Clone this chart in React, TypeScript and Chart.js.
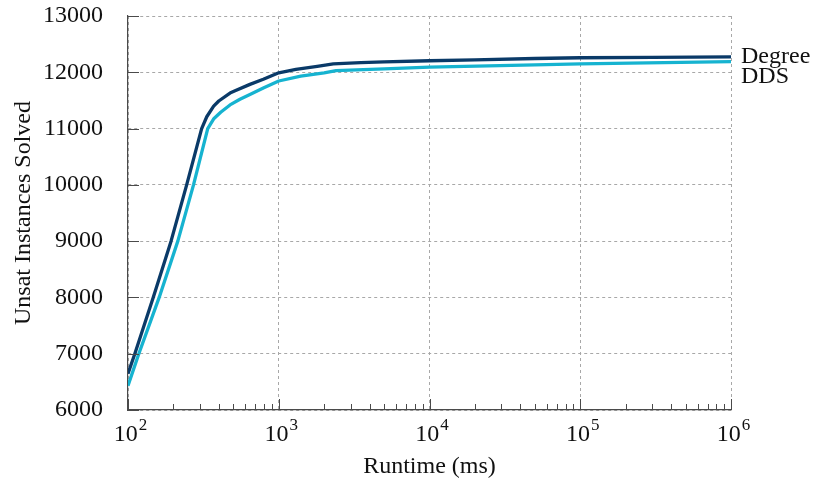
import React, { useEffect, useRef } from "react";
import { Chart, registerables } from "chart.js";

Chart.register(...registerables);

// ---- Data ----
const degreeX = [100, 111, 147, 193, 245, 308, 333, 370, 400, 475, 513, 644, 790, 1000, 1300, 1800, 2300, 3500, 5000, 10000, 20000, 50000, 100000, 300000, 1000000];
const degreeY = [6645, 7000, 8000, 9000, 10000, 11000, 11210, 11400, 11490, 11630, 11670, 11785, 11875, 11990, 12050, 12105, 12150, 12170, 12185, 12205, 12220, 12245, 12258, 12266, 12275];

const ddsX = [100, 118, 161, 214, 272, 338, 372, 412, 475, 553, 644, 790, 1000, 1400, 2000, 2400, 5000, 10000, 50000, 100000, 1000000];
const ddsY = [6432, 7000, 8000, 9000, 10000, 11000, 11180, 11290, 11420, 11520, 11605, 11720, 11845, 11930, 11990, 12030, 12060, 12092, 12130, 12150, 12190];

const seriesNames = ["Degree", "DDS"];
const seriesColors = ["#0a3a68", "#16b3d0"];

const xTickValues = [100, 1000, 10000, 100000, 1000000];
const xTickBase = "10";
const xTickExponents = ["2", "3", "4", "5", "6"];
const yMin = 6000;
const yMax = 13000;
const yStep = 1000;

const xTitle = "Runtime (ms)";
const yTitle = "Unsat Instances Solved";

const FONT = '"Liberation Serif", "Times New Roman", serif';

export default function App() {
  const ref = useRef<HTMLCanvasElement>(null);

  useEffect(() => {
    const canvas = ref.current;
    if (!canvas) return;

    const decorPlugin = {
      id: "decor",
      afterDraw(chart: any) {
        const ctx = chart.ctx;
        const xs = chart.scales.x;
        const { left, bottom } = chart.chartArea;
        ctx.save();
        ctx.strokeStyle = "#4a4a4a";
        ctx.lineWidth = 1;
        const seg = (x1: number, y1: number, x2: number, y2: number) => {
          ctx.beginPath();
          ctx.moveTo(x1, y1);
          ctx.lineTo(x2, y2);
          ctx.stroke();
        };
        // minor x ticks
        for (let d = 0; d < xTickValues.length - 1; d++) {
          for (let m = 2; m <= 9; m++) {
            const px = Math.round(xs.getPixelForValue(m * xTickValues[d])) + 0.5;
            seg(px, bottom, px, bottom - 6);
          }
        }
        // major x ticks
        xTickValues.forEach((v) => {
          const px = Math.round(xs.getPixelForValue(v)) + 0.5;
          seg(px, bottom, px, bottom - 11);
        });
        // y ticks
        const ys = chart.scales.y;
        for (let v = yMin; v <= yMax; v += yStep) {
          const py = Math.round(ys.getPixelForValue(v)) + 0.5;
          seg(left, py, left + 11, py);
        }
        // x tick labels 10^k
        ctx.fillStyle = "#111";
        ctx.textBaseline = "alphabetic";
        ctx.textAlign = "left";
        xTickValues.forEach((v, i) => {
          const px = xs.getPixelForValue(v);
          ctx.font = `24px ${FONT}`;
          const wb = ctx.measureText(xTickBase).width;
          ctx.font = `17px ${FONT}`;
          const we = ctx.measureText(xTickExponents[i]).width;
          const start = px - (wb + we) / 2 + 2;
          ctx.font = `24px ${FONT}`;
          ctx.fillText(xTickBase, start, 441);
          ctx.font = `17px ${FONT}`;
          ctx.fillText(xTickExponents[i], start + wb + 1, 430);
        });
        // series end labels
        ctx.font = `24px ${FONT}`;
        const offsets = [6, 21];
        chart.data.datasets.forEach((ds: any, i: number) => {
          const meta = chart.getDatasetMeta(i);
          const last = meta.data[meta.data.length - 1];
          if (!last) return;
          ctx.fillText(seriesNames[i], last.x + 10, last.y + offsets[i]);
        });
        ctx.restore();
      },
    };

    const chart = new Chart(canvas, {
      type: "line",
      data: {
        datasets: [
          {
            label: seriesNames[0],
            data: degreeX.map((x, i) => ({ x, y: degreeY[i] })),
            borderColor: seriesColors[0],
            backgroundColor: seriesColors[0],
            borderWidth: 3.3,
            pointRadius: 0,
            tension: 0,
            fill: false,
            borderJoinStyle: "round",
          },
          {
            label: seriesNames[1],
            data: ddsX.map((x, i) => ({ x, y: ddsY[i] })),
            borderColor: seriesColors[1],
            backgroundColor: seriesColors[1],
            borderWidth: 3.3,
            pointRadius: 0,
            tension: 0,
            fill: false,
            borderJoinStyle: "round",
          },
        ],
      },
      options: {
        animation: false,
        responsive: false,
        maintainAspectRatio: false,
        layout: { padding: { top: 16, right: 89, left: 0, bottom: 0 } },
        plugins: {
          legend: { display: false },
          tooltip: { enabled: false },
        },
        scales: {
          x: {
            type: "logarithmic",
            min: xTickValues[0],
            max: xTickValues[xTickValues.length - 1],
            afterBuildTicks: (s: any) => {
              s.ticks = xTickValues.map((v) => ({ value: v, major: true }));
            },
            afterFit: (s: any) => {
              s.height = 71;
              s.paddingLeft = 0;
              s.paddingRight = 0;
            },
            ticks: { display: false },
            grid: { color: "#a8a8a8", lineWidth: 1, drawTicks: false },
            border: { display: true, color: "#4a4a4a", width: 1.2, dash: [3, 3] },
            title: {
              display: true,
              text: xTitle,
              color: "#111",
              font: { family: FONT, size: 24 },
              padding: { top: 0, bottom: 0 },
            },
          },
          y: {
            type: "linear",
            min: yMin,
            max: yMax,
            afterFit: (s: any) => {
              s.width = 128;
              s.paddingTop = 0;
              s.paddingBottom = 0;
            },
            ticks: {
              stepSize: yStep,
              color: "#111",
              padding: 25,
              font: { family: FONT, size: 24 },
              callback: (v: any) => String(v),
            },
            grid: { color: "#a8a8a8", lineWidth: 1, drawTicks: false },
            border: { display: true, color: "#4a4a4a", width: 1.2, dash: [3, 3] },
            title: {
              display: true,
              text: yTitle,
              color: "#111",
              font: { family: FONT, size: 24 },
              padding: { top: 9, bottom: 0 },
            },
          },
        },
      },
      plugins: [decorPlugin],
    } as any);

    return () => chart.destroy();
  }, []);

  return (
    <div style={{ position: "absolute", left: 0, top: 0, width: 820, height: 481, background: "#fff" }}>
      <canvas ref={ref} width={820} height={481} style={{ display: "block" }} />
    </div>
  );
}
